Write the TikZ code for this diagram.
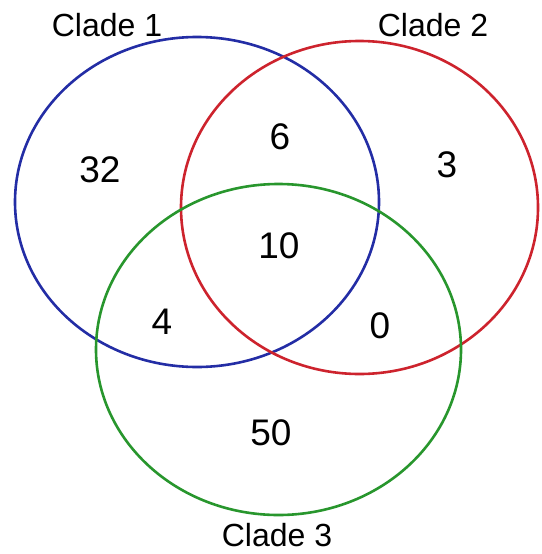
\documentclass[tikz,border=0pt]{standalone}
\usepackage{fontspec}
\setmainfont{Liberation Sans}
\usetikzlibrary{shapes.geometric}

\definecolor{cladeblue}{RGB}{35,45,165}
\definecolor{cladered}{RGB}{205,35,45}
\definecolor{cladegreen}{RGB}{40,150,45}

\tikzset{
    set/.style={draw, ellipse, line width=2.6pt, inner sep=0pt, outer sep=0pt},
    setname/.style={font=\fontsize{32}{38}\selectfont, inner sep=0pt},
    count/.style={font=\fontsize{37}{44}\selectfont, inner sep=0pt}
}

\begin{document}
\begin{tikzpicture}[x=1pt, y=-1pt]
    \useasboundingbox (0,0) rectangle (541,554);

    % the three clades
    \node [set, cladeblue, minimum width=364pt, minimum height=330pt] (clade1) at (197,202) {};
    \node [set, cladered, minimum width=357pt, minimum height=333pt] (clade2) at (359.5,207.5) {};
    \node [set, cladegreen, minimum width=365pt, minimum height=331pt] (clade3) at (278.5,349.5) {};

    % names
    \node [setname] (name1) at (107,25) {Clade 1};
    \node [setname] (name2) at (433,25) {Clade 2};
    \node [setname] (name3) at (277,535) {Clade 3};

    % counts per region
    \node [count] (only1) at (100,170) {32};
    \node [count] (only2) at (447,165) {3};
    \node [count] (only3) at (271,433) {50};
    \node [count] (both12) at (280,137) {6};
    \node [count] (both13) at (162,322) {4};
    \node [count] (both23) at (380,326) {0};
    \node [count] (all) at (279,246) {10};
\end{tikzpicture}
\end{document}
